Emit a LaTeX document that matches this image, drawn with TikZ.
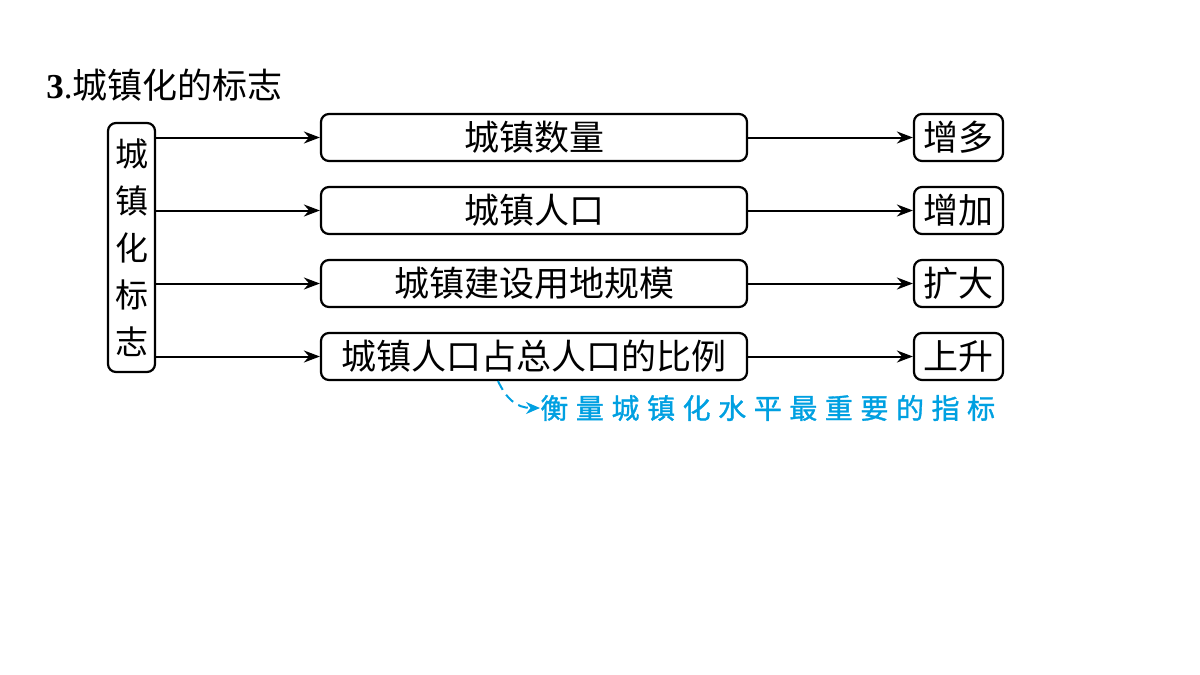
\documentclass[tikz,border=0pt]{standalone}
\usepackage{fontspec}
\setmainfont{Liberation Serif}
\newfontfamily\cjk{Noto Sans CJK SC}
\newfontfamily\cjkspaced[LetterSpace=27,FakeBold=1.2]{Noto Sans CJK SC}
\usetikzlibrary{arrows.meta}
\definecolor{noteblue}{RGB}{0,160,225}
\tikzset{
  box/.style={draw, line width=1.1pt, rounded corners=4pt, inner sep=0pt, font=\cjk\fontsize{17.5}{20}\selectfont},
  midbox/.style={box, minimum width=213pt, minimum height=23.5pt},
  endbox/.style={box, minimum width=44.5pt, minimum height=23.5pt},
  arr/.style={line width=1pt, -{Stealth[length=8pt,width=6pt]}},
}
\begin{document}
\begin{tikzpicture}[x=0.5pt,y=-0.5pt]
\useasboundingbox (0,0) rectangle (1200,675);
\node[anchor=west, inner sep=0pt] (title) at (46,85) {\fontsize{17.5}{20}\selectfont\textbf{3}.\cjk 城镇化的标志};
\node[box, minimum width=23.5pt, minimum height=124.5pt, align=center, font=\cjk\fontsize{16.5}{23.5}\selectfont] (L) at (131.5,247.5) {城\\镇\\化\\标\\志};
\node[midbox] (m1) at (534,137.5) {城镇数量};
\node[midbox] (m2) at (534,210.5) {城镇人口};
\node[midbox] (m3) at (534,283.5) {城镇建设用地规模};
\node[midbox] (m4) at (534,356.5) {城镇人口占总人口的比例};
\node[endbox] (r1) at (958.5,137.5) {增多};
\node[endbox] (r2) at (958.5,210.5) {增加};
\node[endbox] (r3) at (958.5,283.5) {扩大};
\node[endbox] (r4) at (958.5,356.5) {上升};
\foreach \i in {1,2,3,4}{
  \draw[arr] (L.east |- m\i.west) -- (m\i.west);
  \draw[arr] (m\i.east) -- (r\i.west);
}
\node[anchor=west, inner sep=0pt, text=noteblue, font=\cjkspaced\fontsize{14}{16}\selectfont] (note) at (540,408) {衡量城镇化水平最重要的指标};
\coordinate (c0) at (498,381);
\draw[noteblue, line width=1pt, dash pattern=on 5pt off 3pt, -{Stealth[length=7pt,width=6pt]}] (c0) .. controls (506,398) and (516,408) .. (note.west);
\end{tikzpicture}
\end{document}
